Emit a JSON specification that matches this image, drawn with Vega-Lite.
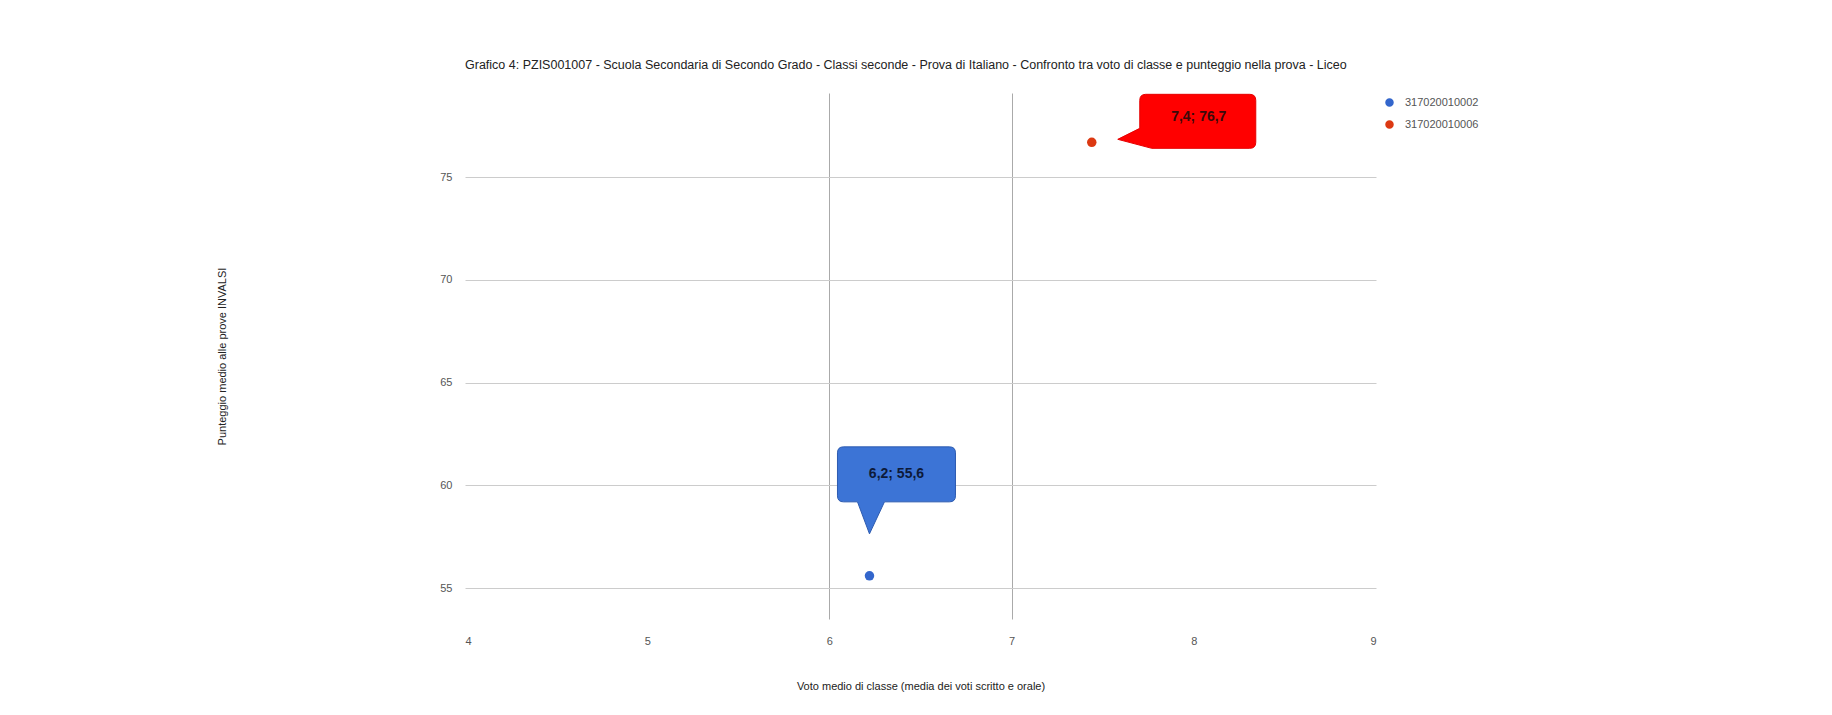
{
  "$schema": "https://vega.github.io/schema/vega-lite/v6.json",
  "autosize": {"type": "none"},
  "padding": {"left": 465, "top": 93, "right": 456, "bottom": 96},
  "width": 911,
  "height": 526,
  "background": "#ffffff",
  "config": {
    "font": "Liberation Sans",
    "view": {"stroke": null},
    "axis": {"labelFont": "Liberation Sans", "titleFont": "Liberation Sans", "labelColor": "#555555", "titleColor": "#222222", "labelFontSize": 11, "titleFontSize": 11, "titleFontWeight": "normal", "domain": false, "ticks": false, "gridColor": "#cccccc", "gridWidth": 1}
  },
  "title": {
    "text": "Grafico 4: PZIS001007 - Scuola Secondaria di Secondo Grado - Classi seconde - Prova di Italiano - Confronto tra voto di classe e punteggio nella prova - Liceo",
    "anchor": "start",
    "frame": "group",
    "fontSize": 12.5,
    "fontWeight": "normal",
    "color": "#222222",
    "font": "Liberation Sans",
    "offset": 21
  },
  "data": {
    "values": [
      {"classe": "317020010002", "voto": 6.22, "punteggio": 55.6, "etichetta": "6,2; 55,6"},
      {"classe": "317020010006", "voto": 7.44, "punteggio": 76.7, "etichetta": "7,4; 76,7"}
    ]
  },
  "encoding": {
    "x": {
      "field": "voto", "type": "quantitative",
      "scale": {"domain": [4, 9], "nice": false, "zero": false},
      "axis": {
        "title": "Voto medio di classe (media dei voti scritto e orale)",
        "values": [4, 5, 6, 7, 8, 9],
        "grid": true,
        "gridColor": "#aaaaaa",
        "gridOpacity": {"condition": {"test": "datum.value == 6 || datum.value == 7", "value": 1}, "value": 0},
        "labelPadding": 16,
        "titlePadding": 34
      }
    },
    "y": {
      "field": "punteggio", "type": "quantitative",
      "scale": {"domain": [53.5, 79.1], "nice": false, "zero": false},
      "axis": {
        "title": "Punteggio medio alle prove INVALSI",
        "values": [55, 60, 65, 70, 75],
        "grid": true,
        "labelPadding": 13,
        "titlePadding": 212
      }
    }
  },
  "layer": [
    {
      "mark": {"type": "point", "filled": true, "size": 90, "opacity": 1},
      "encoding": {
        "color": {
          "field": "classe", "type": "nominal",
          "scale": {"domain": ["317020010002", "317020010006"], "range": ["#3366cc", "#dc3912"]},
          "legend": {
            "title": null,
            "orient": "none",
            "legendX": 915,
            "legendY": 0,
            "labelFont": "Liberation Sans",
            "labelFontSize": 11,
            "labelColor": "#555555",
            "rowPadding": 7,
            "labelOffset": 6,
            "symbolSize": 289,
            "symbolStrokeWidth": 2,
            "symbolType": "M -1 0 L 1 0 M 0.5 0 A 0.5 0.5 0 1 1 -0.5 0 A 0.5 0.5 0 1 1 0.5 0 Z",
            "encode": {"symbols": {
              "shape": {"value": "M -1 0 L 1 0 M 0.5 0 A 0.5 0.5 0 1 1 -0.5 0 A 0.5 0.5 0 1 1 0.5 0 Z"},
              "stroke": {"condition": {"test": "datum.value == '317020010002'", "value": "#3366cc"}, "value": "#dc3912"},
              "strokeOpacity": {"value": 1},
              "strokeWidth": {"value": 2},
              "opacity": {"value": 1},
              "size": {"value": 289}
            }}
          }
        }
      }
    },
    {
      "transform": [{"filter": "datum.classe == '317020010006'"}],
      "mark": {
        "type": "point", "filled": true, "size": 4, "opacity": 1, "fill": "#ff0000", "stroke": "#e60000", "strokeWidth": 1,
        "shape": "M 54 -48 L 158 -48 Q 164 -48 164 -42 L 164 0 Q 164 6 158 6 L 60 6 L 26 -3 L 48 -14 L 48 -42 Q 48 -48 54 -48 Z"
      }
    },
    {
      "transform": [{"filter": "datum.classe == '317020010002'"}],
      "mark": {
        "type": "point", "filled": true, "size": 4, "opacity": 1, "fill": "#3c74d6", "stroke": "#2d5bb0", "strokeWidth": 1,
        "shape": "M -26 -129 L 80 -129 Q 86 -129 86 -123 L 86 -80 Q 86 -74 80 -74 L 15 -74 L 0 -42 L -12 -74 L -26 -74 Q -32 -74 -32 -80 L -32 -123 Q -32 -129 -26 -129 Z"
      }
    },
    {
      "transform": [{"filter": "datum.classe == '317020010006'"}],
      "mark": {"type": "text", "dx": 107, "dy": -25, "align": "center", "baseline": "middle", "font": "Liberation Sans", "fontSize": 14, "fontWeight": "bold", "color": "#3a0a0a"},
      "encoding": {"text": {"field": "etichetta"}}
    },
    {
      "transform": [{"filter": "datum.classe == '317020010002'"}],
      "mark": {"type": "text", "dx": 27, "dy": -102, "align": "center", "baseline": "middle", "font": "Liberation Sans", "fontSize": 14, "fontWeight": "bold", "color": "#0d1a3a"},
      "encoding": {"text": {"field": "etichetta"}}
    }
  ]
}
